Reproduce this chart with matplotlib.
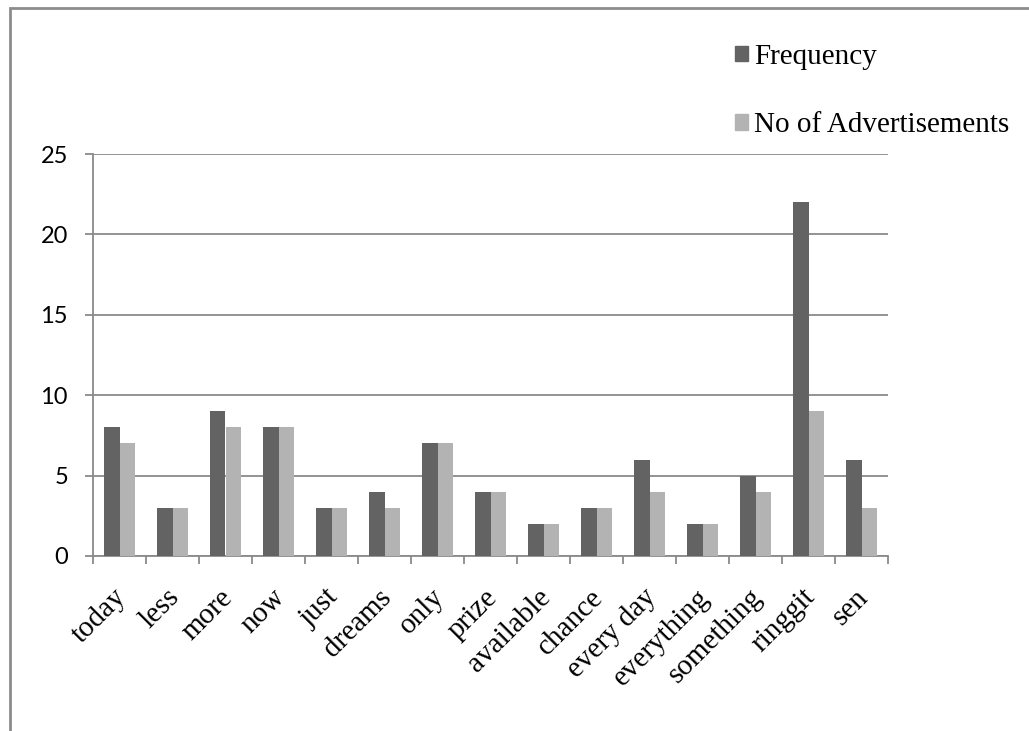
import numpy as np
import matplotlib.pyplot as plt
from matplotlib.patches import Patch, Rectangle

words = ["today", "less", "more", "now", "just", "dreams", "only", "prize",
         "available", "chance", "every day", "everything", "something",
         "ringgit", "sen"]
frequency = [8, 3, 9, 8, 3, 4, 7, 4, 2, 3, 6, 2, 5, 22, 6]
no_of_ads = [7, 3, 8, 8, 3, 3, 7, 4, 2, 3, 4, 2, 4, 9, 3]
yticks = [0, 5, 10, 15, 20, 25]

dark = "#636363"
light = "#b3b3b3"
grid = "#8a8a8a"

fig = plt.figure(figsize=(10.29, 7.31), dpi=100)
ax = fig.add_axes([93 / 1029, 1 - 556 / 731, 795 / 1029, 402 / 731])

x = np.arange(len(words))
w = 0.285
ax.bar(x - w / 2, frequency, w, color=dark, zorder=3)
ax.bar(x + w / 2, no_of_ads, w, color=light, zorder=3)

ax.set_xlim(-0.5, len(words) - 0.5)
ax.set_ylim(0, 25)
ax.set_yticks(yticks)
ax.yaxis.grid(True, color=grid, linewidth=1.3, zorder=0)
for s in ["top", "right"]:
    ax.spines[s].set_visible(False)
for s in ["left", "bottom"]:
    ax.spines[s].set_color(grid)
    ax.spines[s].set_linewidth(1.3)

ax.tick_params(axis="y", length=6, width=1.3, color=grid, pad=12)
for lbl in ax.get_yticklabels():
    lbl.set_fontfamily("Lato")
    lbl.set_fontsize(17)

# category boundaries carry the tick marks, labels sit at the centres
ax.set_xticks(np.arange(len(words) + 1) - 0.5)
ax.set_xticklabels([])
ax.tick_params(axis="x", length=6, width=1.3, color=grid)
for i, word in enumerate(words):
    ax.annotate(word, xy=(i, 0), xycoords=("data", "axes fraction"),
                xytext=(2, -27), textcoords="offset points",
                rotation=45, ha="right", va="center", rotation_mode="anchor",
                fontfamily="Liberation Serif", fontsize=21)

handles = [Patch(color=dark, label="Frequency"),
           Patch(color=light, label="No of Advertisements")]
fig.legend(handles=handles, loc="upper left",
           bbox_to_anchor=(735 / 1029, 1 - 44 / 731), frameon=False,
           prop={"family": "Liberation Serif", "size": 21},
           handlelength=0.43, handleheight=0.43, handletextpad=0.22,
           labelspacing=1.45, borderaxespad=0, borderpad=0)

# outer chart border
fig.patches.append(Rectangle((10 / 1029, -0.05), 1.1, 1.05 - 8 / 731,
                             transform=fig.transFigure, fill=False,
                             edgecolor="#8c8c8c", linewidth=2))

fig.savefig("out.png", dpi=100)
